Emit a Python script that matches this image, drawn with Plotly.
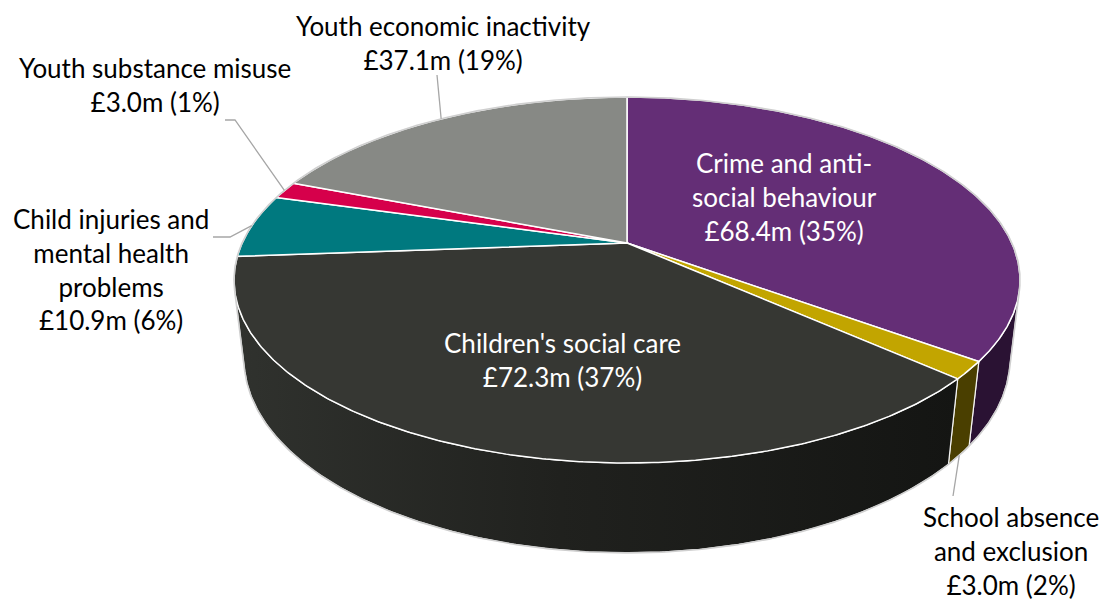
import numpy as np
import plotly.graph_objects as go

# ---------------- data ----------------
categories = [
    "Crime and anti-social behaviour",
    "School absence and exclusion",
    "Children's social care",
    "Child injuries and mental health problems",
    "Youth substance misuse",
    "Youth economic inactivity",
]
values = [68.4, 3.0, 72.3, 10.9, 3.0, 37.1]
label_texts = [
    "Crime and anti-<br>social behaviour<br>£68.4m (35%)",
    "School absence<br>and exclusion<br>£3.0m (2%)",
    "Children's social care<br>£72.3m (37%)",
    "Child injuries and<br>mental health<br>problems<br>£10.9m (6%)",
    "Youth substance misuse<br>£3.0m (1%)",
    "Youth economic inactivity<br>£37.1m (19%)",
]

# ---------------- styles / layout ----------------
top_colors = ["#642e76", "#c2a500", "#363733", "#00797f", "#d6004b", "#878985"]
side_colors = ["#2a1233", "#4a3f00", "#1c1d1a", "#003c40", "#6b0026", "#444543"]
label_pos = [(784, 197), (1011, 551), (562, 360), (111, 269), (155, 85), (443, 43)]
label_inside = [True, False, True, False, False, False]
# leader line elbow points (toward label), None = no leader
leader_pts = [None, [(953, 496)], None, [(230, 237), (213, 237)],
              [(235, 120), (225, 120)], [(437, 75)]]
leader_from_bottom = [False, True, False, False, False, False]

W, H = 1104, 602
CX, CY = 627.0, 243.0        # projected centre of the top face
A, B = 384.9, 175.5          # top-face scale
K = 0.2022                   # perspective factor of the top plane
CH, MH = 79.5, 0.025         # thickness terms (vertical offset, perspective)


def proj(theta_deg, bottom=False):
    t = np.radians(np.asarray(theta_deg, dtype=float))
    X, Y = np.sin(t), np.cos(t)
    w = 1 + K * Y + (MH if bottom else 0.0)
    x = CX + A * X / w
    y = CY - (B * Y - (CH if bottom else 0.0)) / w
    return x, y


# visible side range (where cylinder faces the camera)
y_cam = -CH / (K * CH + MH * B)
vis = np.degrees(np.arccos(1.0 / y_cam))
VIS0, VIS1 = vis, 360 - vis

total = sum(values)
starts, ends = [], []
acc = 0.0
for v in values:
    starts.append(acc / total * 360)
    acc += v
    ends.append(acc / total * 360)

fig = go.Figure()

# ---- sides ----
for i in range(len(values)):
    a, b = max(starts[i], VIS0), min(ends[i], VIS1)
    if b <= a:
        continue
    th = np.linspace(a, b, 200)
    xt, yt = proj(th)
    xb, yb = proj(th[::-1], bottom=True)
    xs = np.concatenate([xt, xb, xt[:1]])
    ys = np.concatenate([yt, yb, yt[:1]])
    kw = dict(fillcolor=side_colors[i])
    if i == 2:
        kw = dict(fillgradient=dict(type="horizontal",
                                    colorscale=[[0, "#30322e"], [0.45, "#20211e"], [1, "#141513"]]))
    fig.add_trace(go.Scatter(x=xs, y=ys, mode="lines", fill="toself",
                             line=dict(color="rgba(255,255,255,0.9)", width=1.2),
                             hoverinfo="skip", **kw))

# ---- top face ----
for i in range(len(values)):
    th = np.linspace(starts[i], ends[i], 300)
    xt, yt = proj(th)
    xs = np.concatenate([[CX], xt, [CX]])
    ys = np.concatenate([[CY], yt, [CY]])
    fig.add_trace(go.Scatter(x=xs, y=ys, mode="lines", fill="toself",
                             fillcolor=top_colors[i],
                             line=dict(color="white", width=1.5),
                             hoverinfo="skip", name=categories[i]))

# ---- outer outline ----
th_back = np.linspace(VIS1, VIS0 + 360, 500)
xo1, yo1 = proj(th_back)
th_bot = np.linspace(VIS0, VIS1, 400)
xo2, yo2 = proj(th_bot, bottom=True)
xo = np.concatenate([xo1, xo2, xo1[:1]])
yo = np.concatenate([yo1, yo2, yo1[:1]])
fig.add_trace(go.Scatter(x=xo, y=yo, mode="lines",
                         line=dict(color="#cfcfcf", width=1.6), hoverinfo="skip"))

# ---- leader lines ----
for i in range(len(values)):
    if leader_pts[i] is None:
        continue
    mid = (starts[i] + ends[i]) / 2
    x0, y0 = proj(mid, bottom=leader_from_bottom[i])
    lx = [float(x0)] + [p[0] for p in leader_pts[i]]
    ly = [float(y0)] + [p[1] for p in leader_pts[i]]
    fig.add_trace(go.Scatter(x=lx, y=ly, mode="lines",
                             line=dict(color="#a6a6a6", width=1.3), hoverinfo="skip"))

# ---- labels ----
for i in range(len(values)):
    fig.add_annotation(x=label_pos[i][0], y=label_pos[i][1], xref="x", yref="y",
                       text=label_texts[i], showarrow=False, align="center",
                       xanchor="center", yanchor="middle",
                       font=dict(family="Lato", size=26,
                                 color="white" if label_inside[i] else "#000000"))

fig.update_layout(
    width=W, height=H, margin=dict(l=0, r=0, t=0, b=0),
    paper_bgcolor="white", plot_bgcolor="white", showlegend=False,
    xaxis=dict(range=[0, W], visible=False, fixedrange=True),
    yaxis=dict(range=[H, 0], visible=False, fixedrange=True),
)

fig.write_html("out.html")
